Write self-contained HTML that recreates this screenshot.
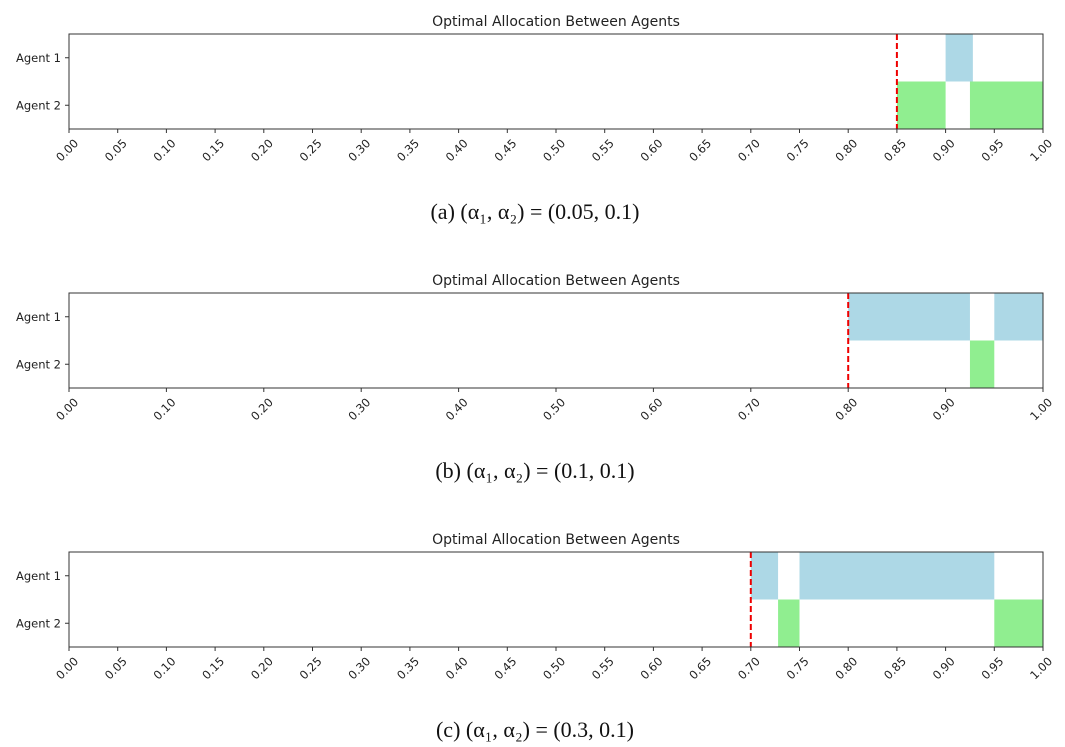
<!DOCTYPE html>
<html><head><meta charset="utf-8"><style>
html,body{margin:0;padding:0;background:#fff;}
svg{display:block;}
</style></head><body>
<svg id="chart" width="1065" height="747" xmlns="http://www.w3.org/2000/svg"></svg>
<script>
// Panel data
const panelTops = [34, 293, 552];
const thresholds = [0.85, 0.80, 0.70];
const tickSteps = [0.05, 0.1, 0.05];
const captions = ["(a) (α₁, α₂) = (0.05, 0.1)", "(b) (α₁, α₂) = (0.1, 0.1)", "(c) (α₁, α₂) = (0.3, 0.1)"];
const agent1Segs = [[[0.90,0.928]], [[0.80,0.925],[0.95,1.0]], [[0.70,0.728],[0.75,0.95]]];
const agent2Segs = [[[0.85,0.90],[0.925,1.0]], [[0.925,0.95]], [[0.728,0.75],[0.95,1.0]]];
const agentLabels = ["Agent 1", "Agent 2"];

const svg = document.getElementById('chart');
const NS = 'http://www.w3.org/2000/svg';
const X0 = 69, X1 = 1043, H = 95;
function xs(v){ return X0 + v*(X1-X0); }
function mk(tag, attrs, parent){
  const e = document.createElementNS(NS, tag);
  for (const k in attrs) e.setAttribute(k, attrs[k]);
  (parent||svg).appendChild(e); return e;
}
panelTops.forEach((top, p) => {
  const g = mk('g', {});
  
  
  const t = mk('text', {x:(X0+X1)/2, y:top-8, 'text-anchor':'middle', 'font-family':'DejaVu Sans, Liberation Sans, sans-serif', 'font-size':'14', fill:'#222'}, g);
  t.textContent = 'Optimal Allocation Between Agents';
  
  
  const yMid = top + H/2;
  [[agent1Segs[p], top, '#add8e6', 'agent1'], [agent2Segs[p], yMid, '#90ee90', 'agent2']].forEach(([segs, y, c, nm]) => {
    segs.forEach(s => {
      const r = mk('rect', {x:xs(s[0]), y:y, width:xs(s[1])-xs(s[0]), height:H/2, fill:c}, g);
      
      
    });
  });
  const ln = mk('line', {x1:xs(thresholds[p]), x2:xs(thresholds[p]), y1:top, y2:top+H, stroke:'#e00', 'stroke-width':2, 'stroke-dasharray':'6,3'}, g);
  
  
  const fr = mk('rect', {x:X0, y:top, width:X1-X0, height:H, fill:'none', stroke:'#333', 'stroke-width':1}, g);
  
  
  agentLabels.forEach((lab, i) => {
    const y = top + H/4 + i*H/2;
    mk('line', {x1:X0-4, x2:X0, y1:y, y2:y, stroke:'#333'}, g);
    const tx = mk('text', {x:X0-8, y:y+4, 'text-anchor':'end', 'font-family':'DejaVu Sans, Liberation Sans, sans-serif', 'font-size':'11.5', fill:'#222'}, g);
    tx.textContent = lab;
    
    
  });
  const n = Math.round(1/tickSteps[p]);
  for (let i = 0; i <= n; i++) {
    const v = i*tickSteps[p], x = xs(v), yb = top+H;
    mk('line', {x1:x, x2:x, y1:yb, y2:yb+4, stroke:'#333'}, g);
    const tx = mk('text', {x:0, y:0, 'text-anchor':'end', 'font-family':'DejaVu Sans, Liberation Sans, sans-serif', 'font-size':'11.5', fill:'#222', transform:`translate(${x+10},${yb+15}) rotate(-45)`}, g);
    tx.textContent = v.toFixed(2);
    
    
  }
  const cap = mk('text', {x:535, y:top+185, 'text-anchor':'middle', 'font-family':'Liberation Serif, DejaVu Serif, serif', 'font-size':'22', fill:'#111'}, g);
  cap.textContent = captions[p];
  
  
});
</script>
</body></html>
